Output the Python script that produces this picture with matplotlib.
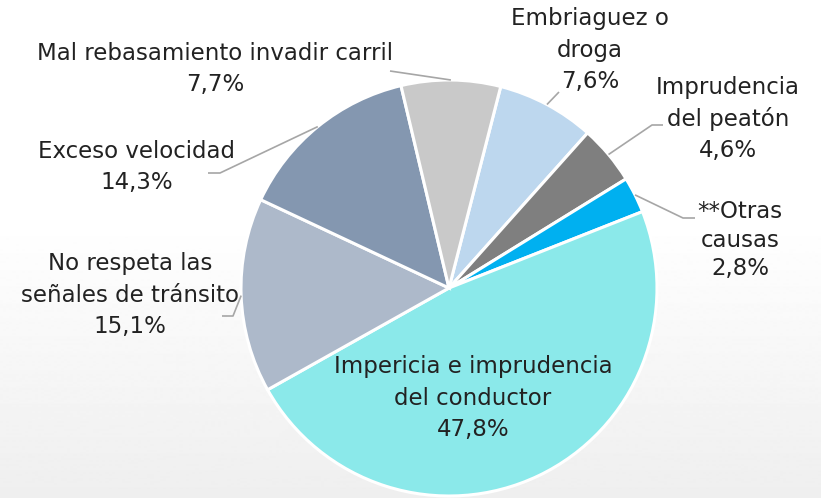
import numpy as np
import matplotlib
matplotlib.use("Agg")
import matplotlib.pyplot as plt

labels = ["Embriaguez o\ndroga", "Imprudencia\ndel peatón", "**Otras\ncausas",
          "Impericia e imprudencia\ndel conductor", "No respeta las\nseñales de tránsito",
          "Exceso velocidad", "Mal rebasamiento invadir carril"]
values = [7.6, 4.6, 2.8, 47.8, 15.1, 14.3, 7.7]
pct_text = ["7,6%", "4,6%", "2,8%", "47,8%", "15,1%", "14,3%", "7,7%"]
colors = ["#BDD7EE", "#7F7F7F", "#00B0F0", "#8BE9EA", "#ADB9CA", "#8497B0", "#C9C9C9"]

W, H = 821, 498
fig = plt.figure(figsize=(W / 100, H / 100), dpi=100)

# background gradient
bg = fig.add_axes([0, 0, 1, 1])
bg.set_axis_off()
grad = np.ones((H, 1))
yy = np.arange(H)
t = np.clip((yy - 220) / (H - 220), 0, 1)
grad[:, 0] = 1 - 0.065 * t
bg.imshow(grad, aspect="auto", cmap="gray", vmin=0, vmax=1, extent=[0, 1, 0, 1], origin="upper")
bg.set_xlim(0, 1); bg.set_ylim(0, 1)

ax = fig.add_axes([0, 0, 1, 1])
ax.patch.set_alpha(0)
cx, cy, R = 449, H - 288, 208
wedges, _ = ax.pie(values, colors=colors, startangle=75.6, counterclock=False,
                   center=(cx, cy), radius=R,
                   wedgeprops=dict(edgecolor="white", linewidth=2.2))
ax.set_xlim(0, W)
ax.set_ylim(0, H)
ax.set_aspect("auto")
ax.set_axis_off()

txtcolor = "#222222"
fs = 16.5
# label block centers (pixel coords, y from top) and leader end points
label_pos = [(590, 50), (728, 119), (740, 240), (473, 398), (130, 295), (137, 167), (215, 69)]
spacing = [1.45, 1.45, 1.3, 1.45, 1.45, 1.45, 1.45]
leaders = {
    0: [(559, 92)],
    1: [(652, 125), (663, 125)],
    2: [(683, 218), (695, 218)],
    4: [(233, 316), (222, 316)],
    5: [(220, 173), (208, 173)],
    6: [(390, 71)],
}
for i, w in enumerate(wedges):
    lx, ly = label_pos[i]
    ax.text(lx, H - ly, labels[i] + "\n" + pct_text[i], ha="center", va="center",
            fontsize=fs, color=txtcolor, linespacing=spacing[i], family="DejaVu Sans")
    if i in leaders:
        ang = np.deg2rad((w.theta1 + w.theta2) / 2)
        sx, sy = cx + R * np.cos(ang), cy + R * np.sin(ang)
        pts = [(sx, sy)] + [(px, H - py) for px, py in leaders[i]]
        xs, ys = zip(*pts)
        ax.plot(xs, ys, color="#A6A6A6", lw=1.2, solid_capstyle="butt")

fig.savefig("out.png", dpi=100)
